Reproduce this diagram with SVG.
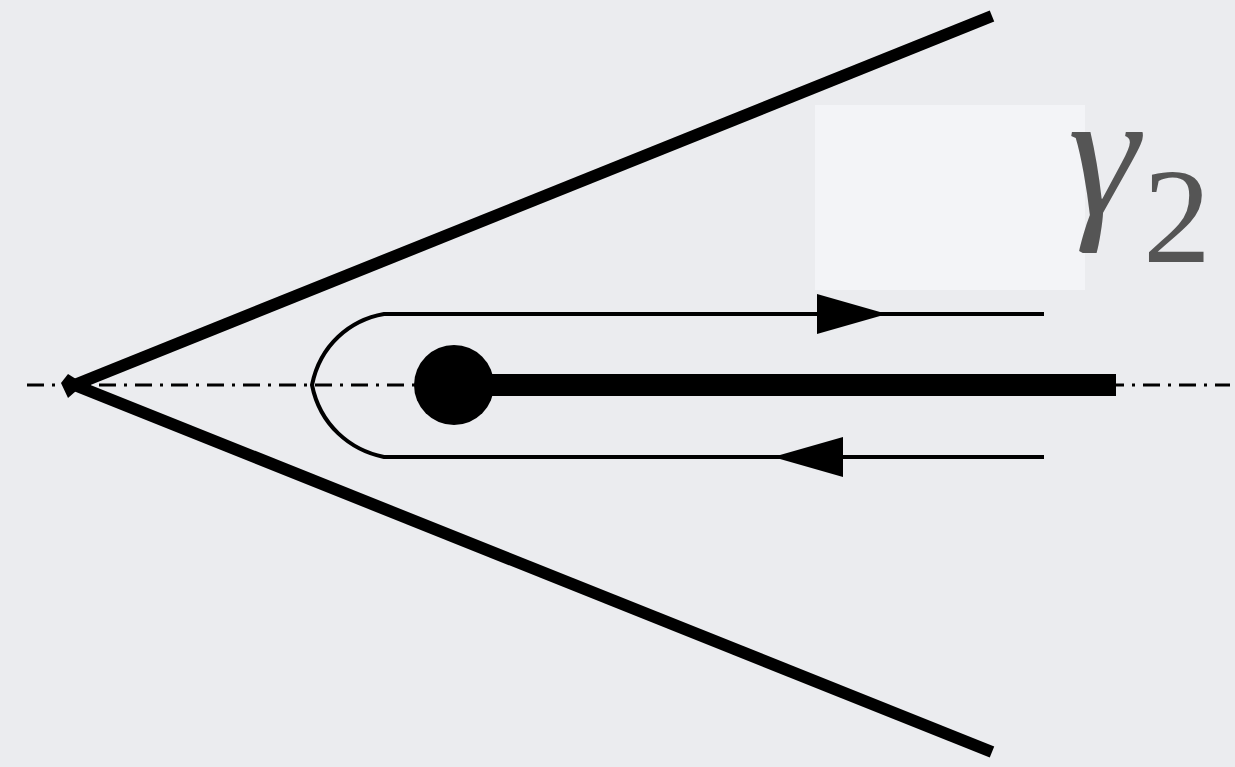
<svg xmlns="http://www.w3.org/2000/svg" width="1235" height="767" viewBox="0 0 1235 767">
<style>
.wedge{stroke:#000;stroke-width:12;stroke-linecap:butt;fill:none}
.axis{stroke:#000;stroke-width:3;stroke-dasharray:17 8 3 8;fill:none}
.contour{stroke:#000;stroke-width:4;fill:none}
.label{fill:#555555}
</style>
<rect width="1235" height="767" fill="#ebecef"/>
<rect x="815" y="105" width="270" height="185" fill="#f3f4f7"/>
<g id="axis"><line class="axis" x1="27" y1="385" x2="1230" y2="385"/></g>
<g id="wedge">
<line class="wedge" x1="72" y1="386" x2="992" y2="16"/>
<line class="wedge" x1="72" y1="384" x2="992" y2="752"/>
<polygon points="61,383 68,374 84,384 68,398" fill="#000"/>
</g>
<g id="cut">
<line x1="454" y1="385" x2="1116" y2="385" stroke="#000" stroke-width="22"/>
<circle cx="454" cy="385" r="40" fill="#000"/>
</g>
<g id="connectors">
<path class="contour" d="M1044,314 H384 C350,320 320,345 312,385 C320,425 350,450 384,457 H1044"/>
<polygon points="817,294 887,314 817,334" fill="#000"/>
<polygon points="843,437 773,457 843,477" fill="#000"/>
</g>
<g id="label">
<text class="label" x="1068" y="215" font-size="180" font-style="italic" font-family="'Liberation Serif','Times New Roman','DejaVu Serif',serif">γ</text>
<text class="label" x="1143" y="262" font-size="136" font-family="'Liberation Serif','Times New Roman','DejaVu Serif',serif">2</text>
</g>
</svg>
